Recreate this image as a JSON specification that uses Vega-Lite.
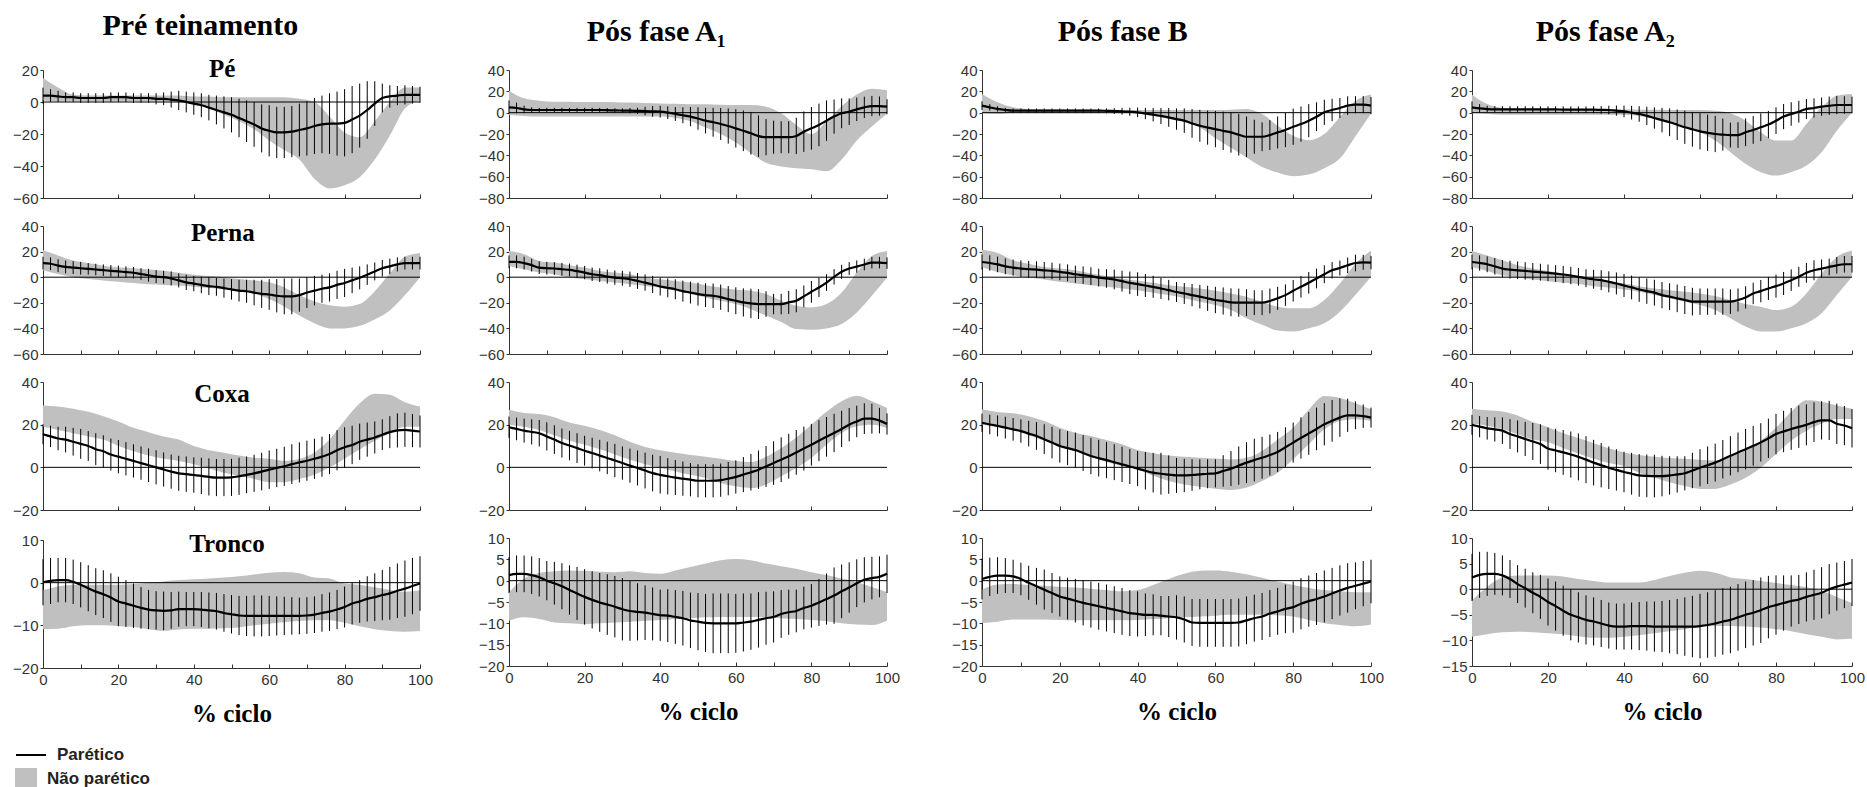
{
"$schema":"https://vega.github.io/schema/vega-lite/v6.json",
"background":"white",
"padding":{"left":0,"top":11,"right":0,"bottom":0},
"config":{
 "view":{"stroke":null},
 "axis":{"grid":false,"domainColor":"#333","tickColor":"#333","labelColor":"#333","labelFont":"Liberation Sans","labelFontSize":15,"domainWidth":1,"tickWidth":1,"labelOverlap":false,"tickCount":50},
 "axisY":{"tickSize":3,"labelPadding":2,"labelOverlap":false},
 "axisX":{"tickSize":-4,"labelPadding":8,"labelFlush":false,"titleFont":"Liberation Serif","titleFontSize":25,"titleFontWeight":"bold","titleColor":"#000","titlePadding":14},
 "title":{"font":"Liberation Serif","fontSize":30,"fontWeight":"bold","color":"#000","anchor":"middle","offset":16}
},
"data":{"values":[
{"k":"1P","x":0,"m":4,"s":5,"lo":1,"hi":15},{"k":"1P","x":2,"m":4,"s":4},{"k":"1P","x":4,"m":3.5,"s":3.5,"lo":0.5,"hi":9},{"k":"1P","x":6,"m":3,"s":3},{"k":"1P","x":8,"m":3,"s":3,"lo":0.5,"hi":4.5},{"k":"1P","x":10,"m":2.5,"s":3},{"k":"1P","x":12,"m":2.5,"s":3,"lo":0.5,"hi":4},{"k":"1P","x":14,"m":2.5,"s":3},{"k":"1P","x":16,"m":2.5,"s":3,"lo":0.5,"hi":4},{"k":"1P","x":18,"m":3,"s":3},{"k":"1P","x":20,"m":3,"s":3,"lo":0.5,"hi":4},{"k":"1P","x":22,"m":3,"s":3},{"k":"1P","x":24,"m":2.5,"s":3,"lo":0.5,"hi":4},{"k":"1P","x":26,"m":2.5,"s":3},{"k":"1P","x":28,"m":2.5,"s":3,"lo":0.5,"hi":4},{"k":"1P","x":30,"m":2,"s":3.5},{"k":"1P","x":32,"m":2,"s":4,"lo":0.5,"hi":4},{"k":"1P","x":34,"m":1.5,"s":5},{"k":"1P","x":36,"m":1,"s":6,"lo":0,"hi":4},{"k":"1P","x":38,"m":0,"s":6.5},{"k":"1P","x":40,"m":-1,"s":7,"lo":-1,"hi":3.5},{"k":"1P","x":42,"m":-2,"s":7.5},{"k":"1P","x":44,"m":-3.5,"s":8,"lo":-4,"hi":3.5},{"k":"1P","x":46,"m":-5,"s":9},{"k":"1P","x":48,"m":-6.5,"s":10,"lo":-8,"hi":3},{"k":"1P","x":50,"m":-8,"s":11},{"k":"1P","x":52,"m":-10,"s":12,"lo":-12,"hi":3},{"k":"1P","x":54,"m":-12,"s":13},{"k":"1P","x":56,"m":-14,"s":14,"lo":-17,"hi":3},{"k":"1P","x":58,"m":-16.5,"s":15},{"k":"1P","x":60,"m":-18,"s":16,"lo":-24,"hi":3},{"k":"1P","x":62,"m":-19,"s":16},{"k":"1P","x":64,"m":-19,"s":16,"lo":-30,"hi":3},{"k":"1P","x":66,"m":-18.5,"s":16},{"k":"1P","x":68,"m":-17.5,"s":16.5,"lo":-36,"hi":2},{"k":"1P","x":70,"m":-16.5,"s":17},{"k":"1P","x":72,"m":-15,"s":17.5,"lo":-48,"hi":0},{"k":"1P","x":74,"m":-14,"s":18},{"k":"1P","x":76,"m":-13.5,"s":19,"lo":-54,"hi":-9},{"k":"1P","x":78,"m":-13.5,"s":20},{"k":"1P","x":80,"m":-13,"s":21,"lo":-52,"hi":-19},{"k":"1P","x":82,"m":-11,"s":21},{"k":"1P","x":84,"m":-8.5,"s":20,"lo":-47,"hi":-22},{"k":"1P","x":86,"m":-5,"s":18},{"k":"1P","x":88,"m":-1,"s":14,"lo":-36,"hi":-12},{"k":"1P","x":90,"m":2.5,"s":9},{"k":"1P","x":92,"m":3.5,"s":7,"lo":-21,"hi":0},{"k":"1P","x":94,"m":4,"s":6},{"k":"1P","x":96,"m":4.5,"s":6,"lo":-4,"hi":9},{"k":"1P","x":98,"m":4.5,"s":5.5},{"k":"1P","x":100,"m":4.5,"s":5,"lo":1,"hi":9},
{"k":"1L","x":0,"m":11,"s":5,"lo":5.5,"hi":21},{"k":"1L","x":2,"m":10.5,"s":5},{"k":"1L","x":4,"m":9,"s":5,"lo":2.5,"hi":17},{"k":"1L","x":6,"m":8,"s":5},{"k":"1L","x":8,"m":7.5,"s":5,"lo":0,"hi":13},{"k":"1L","x":10,"m":7,"s":5},{"k":"1L","x":12,"m":6.5,"s":4.5,"lo":-1.5,"hi":11},{"k":"1L","x":14,"m":6,"s":4.5},{"k":"1L","x":16,"m":5.5,"s":4.5,"lo":-2.5,"hi":9},{"k":"1L","x":18,"m":5,"s":4.5},{"k":"1L","x":20,"m":4.5,"s":4.5,"lo":-3.5,"hi":7.5},{"k":"1L","x":22,"m":4,"s":4.5},{"k":"1L","x":24,"m":3.5,"s":4.5,"lo":-4.5,"hi":7},{"k":"1L","x":26,"m":2.5,"s":4.5},{"k":"1L","x":28,"m":1.5,"s":5,"lo":-5.5,"hi":6},{"k":"1L","x":30,"m":0.5,"s":5},{"k":"1L","x":32,"m":0,"s":5,"lo":-6,"hi":5},{"k":"1L","x":34,"m":-1,"s":5.5},{"k":"1L","x":36,"m":-2.5,"s":5.5,"lo":-6.5,"hi":3.5},{"k":"1L","x":38,"m":-4,"s":6},{"k":"1L","x":40,"m":-5,"s":6,"lo":-7.5,"hi":2},{"k":"1L","x":42,"m":-6,"s":6.5},{"k":"1L","x":44,"m":-7,"s":7,"lo":-8.5,"hi":1},{"k":"1L","x":46,"m":-7.5,"s":7},{"k":"1L","x":48,"m":-8.5,"s":7.5,"lo":-9.5,"hi":0},{"k":"1L","x":50,"m":-9.5,"s":8},{"k":"1L","x":52,"m":-10.5,"s":8.5,"lo":-11,"hi":-1.5},{"k":"1L","x":54,"m":-11,"s":9},{"k":"1L","x":56,"m":-12,"s":10,"lo":-13,"hi":-2.5},{"k":"1L","x":58,"m":-13,"s":11},{"k":"1L","x":60,"m":-13.5,"s":12,"lo":-17,"hi":-4},{"k":"1L","x":62,"m":-14.5,"s":13},{"k":"1L","x":64,"m":-15,"s":14,"lo":-23,"hi":-8},{"k":"1L","x":66,"m":-15,"s":14},{"k":"1L","x":68,"m":-14,"s":13,"lo":-30,"hi":-14},{"k":"1L","x":70,"m":-12,"s":12},{"k":"1L","x":72,"m":-10.5,"s":11.5,"lo":-36,"hi":-19},{"k":"1L","x":74,"m":-9,"s":11},{"k":"1L","x":76,"m":-8,"s":11,"lo":-40,"hi":-22},{"k":"1L","x":78,"m":-6,"s":11},{"k":"1L","x":80,"m":-4.5,"s":11,"lo":-40,"hi":-23},{"k":"1L","x":82,"m":-2.5,"s":10},{"k":"1L","x":84,"m":-0.5,"s":9,"lo":-38,"hi":-21},{"k":"1L","x":86,"m":2,"s":8},{"k":"1L","x":88,"m":4.5,"s":7,"lo":-33,"hi":-11},{"k":"1L","x":90,"m":7,"s":6.5},{"k":"1L","x":92,"m":8.5,"s":6,"lo":-26,"hi":3},{"k":"1L","x":94,"m":10,"s":5.5},{"k":"1L","x":96,"m":11,"s":5,"lo":-14,"hi":16},{"k":"1L","x":98,"m":11,"s":5},{"k":"1L","x":100,"m":11,"s":5,"lo":0,"hi":19},
{"k":"1C","x":0,"m":15.5,"s":4.7,"lo":19,"hi":29},{"k":"1C","x":2,"m":14.5,"s":5},{"k":"1C","x":4,"m":13.5,"s":5.5,"lo":17.5,"hi":28.5},{"k":"1C","x":6,"m":13,"s":6},{"k":"1C","x":8,"m":12,"s":6.5,"lo":16,"hi":27.5},{"k":"1C","x":10,"m":11,"s":7},{"k":"1C","x":12,"m":10,"s":7,"lo":14.5,"hi":26},{"k":"1C","x":14,"m":8.5,"s":7.5},{"k":"1C","x":16,"m":7.5,"s":7.5,"lo":13,"hi":24},{"k":"1C","x":18,"m":6,"s":7.5},{"k":"1C","x":20,"m":5,"s":7.8,"lo":10,"hi":21.5},{"k":"1C","x":22,"m":4,"s":7.8},{"k":"1C","x":24,"m":3,"s":7.8,"lo":7.5,"hi":18.5},{"k":"1C","x":26,"m":2,"s":7.8},{"k":"1C","x":28,"m":1,"s":7.9,"lo":5.5,"hi":16.5},{"k":"1C","x":30,"m":0,"s":8},{"k":"1C","x":32,"m":-1,"s":8,"lo":4,"hi":14.5},{"k":"1C","x":34,"m":-2,"s":8},{"k":"1C","x":36,"m":-2.8,"s":8.2,"lo":3,"hi":13},{"k":"1C","x":38,"m":-3.2,"s":8.3},{"k":"1C","x":40,"m":-3.6,"s":8.3,"lo":1.5,"hi":10},{"k":"1C","x":42,"m":-4,"s":8.5},{"k":"1C","x":44,"m":-4.5,"s":8.7,"lo":-0.5,"hi":8},{"k":"1C","x":46,"m":-4.8,"s":8.7},{"k":"1C","x":48,"m":-4.8,"s":8.7,"lo":-2.5,"hi":6.8},{"k":"1C","x":50,"m":-4.7,"s":8.7},{"k":"1C","x":52,"m":-4.2,"s":8.7,"lo":-4,"hi":5.5},{"k":"1C","x":54,"m":-3.5,"s":8.6},{"k":"1C","x":56,"m":-2.8,"s":8.7,"lo":-5.5,"hi":4.5},{"k":"1C","x":58,"m":-2,"s":8.8},{"k":"1C","x":60,"m":-1.1,"s":9,"lo":-7,"hi":4},{"k":"1C","x":62,"m":-0.3,"s":9},{"k":"1C","x":64,"m":0.5,"s":9.2,"lo":-7,"hi":3},{"k":"1C","x":66,"m":1.5,"s":9.3},{"k":"1C","x":68,"m":2.3,"s":9.4,"lo":-5.5,"hi":4},{"k":"1C","x":70,"m":3.1,"s":9.4},{"k":"1C","x":72,"m":4,"s":9.4,"lo":-3.5,"hi":7},{"k":"1C","x":74,"m":5,"s":9.4},{"k":"1C","x":76,"m":6.2,"s":9.4,"lo":0,"hi":13},{"k":"1C","x":78,"m":8,"s":9.4},{"k":"1C","x":80,"m":9.4,"s":9.4,"lo":4,"hi":22},{"k":"1C","x":82,"m":10.5,"s":9},{"k":"1C","x":84,"m":12,"s":8.5,"lo":8.5,"hi":30},{"k":"1C","x":86,"m":13,"s":8},{"k":"1C","x":88,"m":14,"s":7.5,"lo":12.5,"hi":34.5},{"k":"1C","x":90,"m":15.3,"s":7.2},{"k":"1C","x":92,"m":16.5,"s":7.5,"lo":16,"hi":34},{"k":"1C","x":94,"m":17.3,"s":8},{"k":"1C","x":96,"m":17.6,"s":8,"lo":19,"hi":30.5},{"k":"1C","x":98,"m":17.2,"s":7.8},{"k":"1C","x":100,"m":16.8,"s":7.5,"lo":19,"hi":28.5},
{"k":"1T","x":0,"m":0.1,"s":5.4,"lo":-10.9,"hi":-1.8},{"k":"1T","x":2,"m":0.4,"s":5.4},{"k":"1T","x":4,"m":0.6,"s":5.2,"lo":-10.8,"hi":-0.9},{"k":"1T","x":6,"m":0.6,"s":5.2},{"k":"1T","x":8,"m":0.2,"s":5.2,"lo":-10.2,"hi":-0.5},{"k":"1T","x":10,"m":-0.5,"s":5.3},{"k":"1T","x":12,"m":-1.3,"s":5.4,"lo":-10,"hi":-0.5},{"k":"1T","x":14,"m":-2.1,"s":5.5},{"k":"1T","x":16,"m":-2.7,"s":5.6,"lo":-10,"hi":-0.5},{"k":"1T","x":18,"m":-3.5,"s":5.7},{"k":"1T","x":20,"m":-4.4,"s":5.8,"lo":-10.2,"hi":-0.5},{"k":"1T","x":22,"m":-4.9,"s":5.5},{"k":"1T","x":24,"m":-5.4,"s":5.2,"lo":-10.4,"hi":-0.3},{"k":"1T","x":26,"m":-5.9,"s":4.9},{"k":"1T","x":28,"m":-6.3,"s":4.6,"lo":-10.9,"hi":0},{"k":"1T","x":30,"m":-6.5,"s":4.5},{"k":"1T","x":32,"m":-6.6,"s":4.5,"lo":-11.3,"hi":0.3},{"k":"1T","x":34,"m":-6.5,"s":4.3},{"k":"1T","x":36,"m":-6.2,"s":4.1,"lo":-11,"hi":0.6},{"k":"1T","x":38,"m":-6.2,"s":4},{"k":"1T","x":40,"m":-6.2,"s":4,"lo":-10.8,"hi":0.8},{"k":"1T","x":42,"m":-6.3,"s":4.1},{"k":"1T","x":44,"m":-6.5,"s":4.2,"lo":-10.8,"hi":1},{"k":"1T","x":46,"m":-6.7,"s":4.3},{"k":"1T","x":48,"m":-7.1,"s":4.4,"lo":-10.7,"hi":1.2},{"k":"1T","x":50,"m":-7.4,"s":4.5},{"k":"1T","x":52,"m":-7.7,"s":4.6,"lo":-10.5,"hi":1.5},{"k":"1T","x":54,"m":-7.8,"s":4.7},{"k":"1T","x":56,"m":-7.8,"s":4.8,"lo":-10,"hi":1.9},{"k":"1T","x":58,"m":-7.8,"s":4.8},{"k":"1T","x":60,"m":-7.8,"s":4.7,"lo":-9.6,"hi":2.3},{"k":"1T","x":62,"m":-7.8,"s":4.6},{"k":"1T","x":64,"m":-7.8,"s":4.5,"lo":-9.3,"hi":2.5},{"k":"1T","x":66,"m":-7.8,"s":4.4},{"k":"1T","x":68,"m":-7.8,"s":4.3,"lo":-9,"hi":2.2},{"k":"1T","x":70,"m":-7.7,"s":4.3},{"k":"1T","x":72,"m":-7.5,"s":4.3,"lo":-8.8,"hi":1.2},{"k":"1T","x":74,"m":-7.1,"s":4.4},{"k":"1T","x":76,"m":-6.8,"s":4.5,"lo":-8.8,"hi":1},{"k":"1T","x":78,"m":-6.3,"s":4.6},{"k":"1T","x":80,"m":-5.7,"s":4.8,"lo":-9.4,"hi":-0.2},{"k":"1T","x":82,"m":-4.9,"s":4.9},{"k":"1T","x":84,"m":-4.4,"s":5,"lo":-10.2,"hi":-0.5},{"k":"1T","x":86,"m":-3.8,"s":5.3},{"k":"1T","x":88,"m":-3.4,"s":5.6,"lo":-10.9,"hi":-1.1},{"k":"1T","x":90,"m":-2.9,"s":5.9},{"k":"1T","x":92,"m":-2.5,"s":6.2,"lo":-11.3,"hi":-1.7},{"k":"1T","x":94,"m":-1.9,"s":6.4},{"k":"1T","x":96,"m":-1.4,"s":6.6,"lo":-11.5,"hi":-2.1},{"k":"1T","x":98,"m":-0.8,"s":6.6},{"k":"1T","x":100,"m":-0.2,"s":6.4,"lo":-11.3,"hi":-1.8},
{"k":"2P","x":0,"m":5,"s":6.5,"lo":-2.2,"hi":20.6},{"k":"2P","x":2,"m":4.4,"s":5},{"k":"2P","x":4,"m":3.1,"s":3.5,"lo":-3.1,"hi":13.4},{"k":"2P","x":6,"m":2.5,"s":2.5},{"k":"2P","x":8,"m":2.5,"s":2,"lo":-3.7,"hi":11.2},{"k":"2P","x":10,"m":2.5,"s":2},{"k":"2P","x":12,"m":2.5,"s":2,"lo":-3.7,"hi":10.3},{"k":"2P","x":14,"m":2.5,"s":2},{"k":"2P","x":16,"m":2.5,"s":2,"lo":-3.7,"hi":10.3},{"k":"2P","x":18,"m":2.5,"s":2},{"k":"2P","x":20,"m":2.5,"s":2,"lo":-3.7,"hi":10},{"k":"2P","x":22,"m":2.5,"s":2},{"k":"2P","x":24,"m":2.5,"s":2,"lo":-3.7,"hi":10},{"k":"2P","x":26,"m":2.3,"s":2},{"k":"2P","x":28,"m":2.1,"s":2,"lo":-3.7,"hi":9.8},{"k":"2P","x":30,"m":2,"s":2},{"k":"2P","x":32,"m":1.9,"s":2.5,"lo":-3.7,"hi":9.5},{"k":"2P","x":34,"m":1.7,"s":3},{"k":"2P","x":36,"m":1.5,"s":4,"lo":-3.7,"hi":9},{"k":"2P","x":38,"m":1.2,"s":5},{"k":"2P","x":40,"m":0.9,"s":5.5,"lo":-3.7,"hi":8.7},{"k":"2P","x":42,"m":0,"s":6},{"k":"2P","x":44,"m":-1.2,"s":6.5,"lo":-5,"hi":8.4},{"k":"2P","x":46,"m":-2.4,"s":7.5},{"k":"2P","x":48,"m":-3.7,"s":9,"lo":-8,"hi":8},{"k":"2P","x":50,"m":-5.5,"s":10.5},{"k":"2P","x":52,"m":-7.5,"s":12,"lo":-14,"hi":7.8},{"k":"2P","x":54,"m":-9,"s":13.5},{"k":"2P","x":56,"m":-10.6,"s":15,"lo":-20,"hi":7.5},{"k":"2P","x":58,"m":-12.5,"s":16.5},{"k":"2P","x":60,"m":-14.7,"s":18,"lo":-28,"hi":7.2},{"k":"2P","x":62,"m":-17,"s":19},{"k":"2P","x":64,"m":-19.3,"s":20,"lo":-38,"hi":7.2},{"k":"2P","x":66,"m":-22,"s":19.5},{"k":"2P","x":68,"m":-23,"s":17,"lo":-47,"hi":5.6},{"k":"2P","x":70,"m":-23,"s":15.5},{"k":"2P","x":72,"m":-23,"s":15,"lo":-50.5,"hi":-0.6},{"k":"2P","x":74,"m":-23,"s":15},{"k":"2P","x":76,"m":-21.8,"s":17,"lo":-52,"hi":-11.5},{"k":"2P","x":78,"m":-17.8,"s":19},{"k":"2P","x":80,"m":-14.7,"s":20,"lo":-53,"hi":-20},{"k":"2P","x":82,"m":-11.5,"s":20},{"k":"2P","x":84,"m":-7.5,"s":19,"lo":-55,"hi":-8},{"k":"2P","x":86,"m":-3.7,"s":16},{"k":"2P","x":88,"m":-0.6,"s":14,"lo":-44,"hi":6},{"k":"2P","x":90,"m":0.9,"s":12.5},{"k":"2P","x":92,"m":3.1,"s":11,"lo":-26,"hi":17},{"k":"2P","x":94,"m":5,"s":10},{"k":"2P","x":96,"m":6.2,"s":9.5,"lo":-13,"hi":22.5},{"k":"2P","x":98,"m":6.2,"s":9},{"k":"2P","x":100,"m":5.6,"s":7,"lo":-1,"hi":21},
{"k":"2L","x":0,"m":12,"s":5,"lo":8.8,"hi":20.5},{"k":"2L","x":2,"m":12,"s":5},{"k":"2L","x":4,"m":11,"s":5,"lo":6.2,"hi":18},{"k":"2L","x":6,"m":9.4,"s":5},{"k":"2L","x":8,"m":7.5,"s":5,"lo":3.6,"hi":12.7},{"k":"2L","x":10,"m":7,"s":5},{"k":"2L","x":12,"m":6.8,"s":5,"lo":2.3,"hi":11.4},{"k":"2L","x":14,"m":6.2,"s":5},{"k":"2L","x":16,"m":5.7,"s":5,"lo":-0.3,"hi":9.4},{"k":"2L","x":18,"m":4.7,"s":5.1},{"k":"2L","x":20,"m":3.6,"s":5.2,"lo":-1.6,"hi":7.5},{"k":"2L","x":22,"m":2.3,"s":5.3},{"k":"2L","x":24,"m":1.6,"s":5.4,"lo":-2.9,"hi":4.9},{"k":"2L","x":26,"m":0.5,"s":5.5},{"k":"2L","x":28,"m":-0.3,"s":5.6,"lo":-4.2,"hi":3.6},{"k":"2L","x":30,"m":-0.8,"s":5.8},{"k":"2L","x":32,"m":-1.6,"s":6,"lo":-5.5,"hi":2.3},{"k":"2L","x":34,"m":-2.9,"s":6.2},{"k":"2L","x":36,"m":-4.2,"s":6.4,"lo":-6.8,"hi":-0.3},{"k":"2L","x":38,"m":-5.7,"s":6.7},{"k":"2L","x":40,"m":-7.3,"s":7,"lo":-8,"hi":-1.6},{"k":"2L","x":42,"m":-8.3,"s":7.4},{"k":"2L","x":44,"m":-9.4,"s":7.8,"lo":-10.6,"hi":-2.9},{"k":"2L","x":46,"m":-10.9,"s":8.2},{"k":"2L","x":48,"m":-12,"s":8.6,"lo":-13.2,"hi":-4.2},{"k":"2L","x":50,"m":-13.2,"s":9},{"k":"2L","x":52,"m":-14,"s":9.3,"lo":-15.8,"hi":-6.2},{"k":"2L","x":54,"m":-14.5,"s":9.6},{"k":"2L","x":56,"m":-15.6,"s":9.9,"lo":-18.4,"hi":-8},{"k":"2L","x":58,"m":-17.1,"s":10.2},{"k":"2L","x":60,"m":-18.4,"s":10.5,"lo":-21,"hi":-9.9},{"k":"2L","x":62,"m":-19.7,"s":11},{"k":"2L","x":64,"m":-20.5,"s":11.5,"lo":-25,"hi":-10.6},{"k":"2L","x":66,"m":-21,"s":11.7},{"k":"2L","x":68,"m":-21,"s":10,"lo":-30,"hi":-13.2},{"k":"2L","x":70,"m":-21,"s":8},{"k":"2L","x":72,"m":-21,"s":8,"lo":-35,"hi":-18.4},{"k":"2L","x":74,"m":-19.7,"s":9},{"k":"2L","x":76,"m":-18.4,"s":9,"lo":-40.5,"hi":-22.3},{"k":"2L","x":78,"m":-15,"s":8.5},{"k":"2L","x":80,"m":-11.4,"s":8.5,"lo":-41,"hi":-23.6},{"k":"2L","x":82,"m":-8,"s":7.5},{"k":"2L","x":84,"m":-4.2,"s":6.5,"lo":-40,"hi":-21},{"k":"2L","x":86,"m":0.3,"s":6},{"k":"2L","x":88,"m":4.2,"s":5.5,"lo":-36.6,"hi":-12},{"k":"2L","x":90,"m":6.8,"s":5},{"k":"2L","x":92,"m":8.3,"s":4.8,"lo":-27.5,"hi":3.6},{"k":"2L","x":94,"m":9.9,"s":4.6},{"k":"2L","x":96,"m":11.4,"s":4.5,"lo":-14.5,"hi":16.6},{"k":"2L","x":98,"m":11.4,"s":4.5},{"k":"2L","x":100,"m":11,"s":4.5,"lo":-0.3,"hi":20.5},
{"k":"2C","x":0,"m":18.8,"s":5,"lo":20,"hi":27},{"k":"2C","x":2,"m":18,"s":5.3},{"k":"2C","x":4,"m":17.2,"s":5.6,"lo":19,"hi":25.5},{"k":"2C","x":6,"m":16.6,"s":5.9},{"k":"2C","x":8,"m":16,"s":6.2,"lo":17.5,"hi":25},{"k":"2C","x":10,"m":14.5,"s":6.6},{"k":"2C","x":12,"m":13,"s":6.7,"lo":15,"hi":23.5},{"k":"2C","x":14,"m":11.4,"s":6.8},{"k":"2C","x":16,"m":10.2,"s":6.9,"lo":12.5,"hi":21},{"k":"2C","x":18,"m":9,"s":7},{"k":"2C","x":20,"m":7.8,"s":7,"lo":10.6,"hi":19.5},{"k":"2C","x":22,"m":6.7,"s":7.2},{"k":"2C","x":24,"m":5.5,"s":7.4,"lo":8.5,"hi":17.5},{"k":"2C","x":26,"m":4.4,"s":7.6},{"k":"2C","x":28,"m":3.2,"s":7.8,"lo":6,"hi":15},{"k":"2C","x":30,"m":2,"s":7.8},{"k":"2C","x":32,"m":0.8,"s":8,"lo":3.5,"hi":12},{"k":"2C","x":34,"m":-0.3,"s":8.2},{"k":"2C","x":36,"m":-1.5,"s":8.4,"lo":1.5,"hi":9.5},{"k":"2C","x":38,"m":-2.7,"s":8.6},{"k":"2C","x":40,"m":-3.5,"s":8.8,"lo":-0.3,"hi":8},{"k":"2C","x":42,"m":-4.2,"s":8.5},{"k":"2C","x":44,"m":-4.8,"s":8.2,"lo":-2,"hi":6.8},{"k":"2C","x":46,"m":-5.3,"s":8},{"k":"2C","x":48,"m":-5.8,"s":7.8,"lo":-3.5,"hi":5.8},{"k":"2C","x":50,"m":-6.3,"s":7.8},{"k":"2C","x":52,"m":-6.3,"s":7.8,"lo":-5,"hi":5},{"k":"2C","x":54,"m":-6.3,"s":7.8},{"k":"2C","x":56,"m":-6,"s":7.8,"lo":-7.3,"hi":4},{"k":"2C","x":58,"m":-5.3,"s":7.8},{"k":"2C","x":60,"m":-4.5,"s":7.8,"lo":-8.9,"hi":3},{"k":"2C","x":62,"m":-3.4,"s":8.2},{"k":"2C","x":64,"m":-2.3,"s":8.6,"lo":-9.7,"hi":2.5},{"k":"2C","x":66,"m":-1.1,"s":9},{"k":"2C","x":68,"m":0.4,"s":9.6,"lo":-8.1,"hi":5},{"k":"2C","x":70,"m":2,"s":10.2},{"k":"2C","x":72,"m":3.6,"s":10.5,"lo":-4.2,"hi":9},{"k":"2C","x":74,"m":5.2,"s":10.5},{"k":"2C","x":76,"m":7,"s":10.5,"lo":-0.3,"hi":14},{"k":"2C","x":78,"m":8.8,"s":10.3},{"k":"2C","x":80,"m":10.6,"s":9.8,"lo":4.4,"hi":20},{"k":"2C","x":82,"m":12.5,"s":9.6},{"k":"2C","x":84,"m":14.3,"s":9.3,"lo":10.6,"hi":26},{"k":"2C","x":86,"m":16.1,"s":9},{"k":"2C","x":88,"m":18,"s":8.5,"lo":16.1,"hi":31},{"k":"2C","x":90,"m":20,"s":7.8},{"k":"2C","x":92,"m":21.5,"s":7.4,"lo":19.2,"hi":33.5},{"k":"2C","x":94,"m":22.8,"s":7.2},{"k":"2C","x":96,"m":22.8,"s":7,"lo":20,"hi":31},{"k":"2C","x":98,"m":21.9,"s":6},{"k":"2C","x":100,"m":20.3,"s":5,"lo":18.4,"hi":27.8},
{"k":"2T","x":0,"m":1.3,"s":4.2,"lo":-9.4,"hi":-2.7},{"k":"2T","x":2,"m":1.6,"s":4.3},{"k":"2T","x":4,"m":1.6,"s":4.3,"lo":-8.6,"hi":0.5},{"k":"2T","x":6,"m":1.3,"s":4.4},{"k":"2T","x":8,"m":0.8,"s":4.5,"lo":-9,"hi":1.8},{"k":"2T","x":10,"m":0,"s":4.6},{"k":"2T","x":12,"m":-0.6,"s":5,"lo":-9.8,"hi":2.2},{"k":"2T","x":14,"m":-1.3,"s":5.4},{"k":"2T","x":16,"m":-2.2,"s":5.8,"lo":-10,"hi":2.4},{"k":"2T","x":18,"m":-3,"s":6.2},{"k":"2T","x":20,"m":-3.8,"s":6.5,"lo":-10.2,"hi":2.3},{"k":"2T","x":22,"m":-4.5,"s":6.7},{"k":"2T","x":24,"m":-5.1,"s":6.9,"lo":-10,"hi":2.1},{"k":"2T","x":26,"m":-5.6,"s":7.1},{"k":"2T","x":28,"m":-6.1,"s":7.2,"lo":-9.8,"hi":2},{"k":"2T","x":30,"m":-6.7,"s":7.3},{"k":"2T","x":32,"m":-7.1,"s":7,"lo":-9.6,"hi":2.2},{"k":"2T","x":34,"m":-7.3,"s":6.7},{"k":"2T","x":36,"m":-7.5,"s":6.4,"lo":-9.4,"hi":1.8},{"k":"2T","x":38,"m":-7.8,"s":6.2},{"k":"2T","x":40,"m":-8.1,"s":6,"lo":-9.2,"hi":1.6},{"k":"2T","x":42,"m":-8.2,"s":6.2},{"k":"2T","x":44,"m":-8.5,"s":6.3,"lo":-9,"hi":2.4},{"k":"2T","x":46,"m":-8.8,"s":6.4},{"k":"2T","x":48,"m":-9.3,"s":6.5,"lo":-8.8,"hi":3.2},{"k":"2T","x":50,"m":-9.6,"s":6.7},{"k":"2T","x":52,"m":-9.9,"s":6.8,"lo":-8.6,"hi":4},{"k":"2T","x":54,"m":-10,"s":7},{"k":"2T","x":56,"m":-10,"s":7,"lo":-8.5,"hi":4.8},{"k":"2T","x":58,"m":-10,"s":7},{"k":"2T","x":60,"m":-10,"s":6.9,"lo":-8.5,"hi":5.1},{"k":"2T","x":62,"m":-9.8,"s":6.8},{"k":"2T","x":64,"m":-9.6,"s":6.6,"lo":-8.5,"hi":4.8},{"k":"2T","x":66,"m":-9.2,"s":6.5},{"k":"2T","x":68,"m":-8.8,"s":6.2,"lo":-8.6,"hi":4},{"k":"2T","x":70,"m":-8.5,"s":6},{"k":"2T","x":72,"m":-7.8,"s":5.6,"lo":-8.8,"hi":3.4},{"k":"2T","x":74,"m":-7.4,"s":5.3},{"k":"2T","x":76,"m":-7.1,"s":5,"lo":-9,"hi":2.8},{"k":"2T","x":78,"m":-6.4,"s":5},{"k":"2T","x":80,"m":-5.9,"s":5.1,"lo":-9.2,"hi":2},{"k":"2T","x":82,"m":-5.1,"s":5.5},{"k":"2T","x":84,"m":-4.3,"s":6,"lo":-9.5,"hi":1.3},{"k":"2T","x":86,"m":-3.5,"s":6.6},{"k":"2T","x":88,"m":-2.5,"s":6.3,"lo":-10,"hi":0.5},{"k":"2T","x":90,"m":-1.6,"s":5.9},{"k":"2T","x":92,"m":-0.6,"s":5.6,"lo":-10.3,"hi":-0.3},{"k":"2T","x":94,"m":0.2,"s":5.3},{"k":"2T","x":96,"m":0.6,"s":5,"lo":-10.4,"hi":-1.5},{"k":"2T","x":98,"m":0.9,"s":4.8},{"k":"2T","x":100,"m":1.6,"s":4.5,"lo":-9.4,"hi":-2.7},
{"k":"3P","x":0,"m":6.6,"s":4,"lo":-0.6,"hi":17.6},{"k":"3P","x":2,"m":5,"s":3},{"k":"3P","x":4,"m":3.5,"s":2.5,"lo":-1.3,"hi":9.7},{"k":"3P","x":6,"m":2.5,"s":2},{"k":"3P","x":8,"m":1.9,"s":2,"lo":-0.6,"hi":5},{"k":"3P","x":10,"m":1.9,"s":2},{"k":"3P","x":12,"m":1.9,"s":2,"lo":-0.6,"hi":3.5},{"k":"3P","x":14,"m":1.9,"s":2},{"k":"3P","x":16,"m":1.9,"s":2,"lo":-0.6,"hi":3.3},{"k":"3P","x":18,"m":1.9,"s":2},{"k":"3P","x":20,"m":1.9,"s":2,"lo":-0.6,"hi":3.1},{"k":"3P","x":22,"m":1.9,"s":2},{"k":"3P","x":24,"m":1.9,"s":2,"lo":-0.6,"hi":3},{"k":"3P","x":26,"m":1.9,"s":2},{"k":"3P","x":28,"m":1.9,"s":2,"lo":-0.6,"hi":2.8},{"k":"3P","x":30,"m":1.9,"s":2},{"k":"3P","x":32,"m":1.7,"s":2.3,"lo":-0.6,"hi":2.7},{"k":"3P","x":34,"m":1.5,"s":2.7},{"k":"3P","x":36,"m":1.3,"s":3.2,"lo":-0.6,"hi":2.6},{"k":"3P","x":38,"m":0.8,"s":3.8},{"k":"3P","x":40,"m":0.3,"s":4.5,"lo":-1,"hi":2.5},{"k":"3P","x":42,"m":-0.8,"s":5.3},{"k":"3P","x":44,"m":-1.9,"s":6.3,"lo":-3,"hi":2.5},{"k":"3P","x":46,"m":-3.1,"s":7.5},{"k":"3P","x":48,"m":-4.4,"s":8.8,"lo":-6,"hi":2.5},{"k":"3P","x":50,"m":-6,"s":10},{"k":"3P","x":52,"m":-7.5,"s":11.5,"lo":-9,"hi":2.5},{"k":"3P","x":54,"m":-10,"s":13.5},{"k":"3P","x":56,"m":-12.3,"s":15,"lo":-14,"hi":2.5},{"k":"3P","x":58,"m":-14,"s":16},{"k":"3P","x":60,"m":-15.4,"s":17,"lo":-24,"hi":2.5},{"k":"3P","x":62,"m":-17,"s":18},{"k":"3P","x":64,"m":-18.5,"s":19,"lo":-33,"hi":2.8},{"k":"3P","x":66,"m":-20.7,"s":19.5},{"k":"3P","x":68,"m":-22.6,"s":19,"lo":-42,"hi":3.5},{"k":"3P","x":70,"m":-22.6,"s":16},{"k":"3P","x":72,"m":-22.6,"s":13.5,"lo":-51,"hi":-1.3},{"k":"3P","x":74,"m":-21,"s":14},{"k":"3P","x":76,"m":-18.5,"s":15,"lo":-56,"hi":-12.3},{"k":"3P","x":78,"m":-16.3,"s":16},{"k":"3P","x":80,"m":-13.2,"s":17,"lo":-59.5,"hi":-21.7},{"k":"3P","x":82,"m":-10.7,"s":16.5},{"k":"3P","x":84,"m":-7.5,"s":15.5,"lo":-58,"hi":-25.8},{"k":"3P","x":86,"m":-3.8,"s":13.5},{"k":"3P","x":88,"m":0.3,"s":11.8,"lo":-52,"hi":-20},{"k":"3P","x":90,"m":2.5,"s":10.5},{"k":"3P","x":92,"m":4.4,"s":9.4,"lo":-43,"hi":-4},{"k":"3P","x":94,"m":6.6,"s":8.7},{"k":"3P","x":96,"m":7.5,"s":8,"lo":-22,"hi":11},{"k":"3P","x":98,"m":7.5,"s":8},{"k":"3P","x":100,"m":6.6,"s":8,"lo":-1,"hi":17},
{"k":"3L","x":0,"m":11.9,"s":6,"lo":8,"hi":21.4},{"k":"3L","x":2,"m":11.1,"s":6},{"k":"3L","x":4,"m":10,"s":6.1,"lo":4.1,"hi":18.9},{"k":"3L","x":6,"m":8.5,"s":6.2},{"k":"3L","x":8,"m":7.5,"s":6.3,"lo":1.6,"hi":13.2},{"k":"3L","x":10,"m":6.7,"s":6.5},{"k":"3L","x":12,"m":6.2,"s":6.5,"lo":-0.3,"hi":10.6},{"k":"3L","x":14,"m":5.9,"s":6.5},{"k":"3L","x":16,"m":5.4,"s":6.5,"lo":-1.8,"hi":8},{"k":"3L","x":18,"m":4.9,"s":6.5},{"k":"3L","x":20,"m":4.1,"s":6.5,"lo":-3.6,"hi":6.7},{"k":"3L","x":22,"m":3.4,"s":6.6},{"k":"3L","x":24,"m":2.3,"s":6.7,"lo":-4.9,"hi":5.4},{"k":"3L","x":26,"m":1.6,"s":6.8},{"k":"3L","x":28,"m":0.8,"s":6.9,"lo":-6.2,"hi":2.8},{"k":"3L","x":30,"m":-0.3,"s":7},{"k":"3L","x":32,"m":-1,"s":7.3,"lo":-7.5,"hi":0.8},{"k":"3L","x":34,"m":-1.8,"s":7.7},{"k":"3L","x":36,"m":-3.1,"s":8.2,"lo":-8.8,"hi":-1},{"k":"3L","x":38,"m":-4.4,"s":8.8},{"k":"3L","x":40,"m":-5.4,"s":9.2,"lo":-10.1,"hi":-2.8},{"k":"3L","x":42,"m":-6.5,"s":9},{"k":"3L","x":44,"m":-7.5,"s":8.6,"lo":-12.1,"hi":-4.4},{"k":"3L","x":46,"m":-8.8,"s":8.2},{"k":"3L","x":48,"m":-10.1,"s":8,"lo":-14,"hi":-6.2},{"k":"3L","x":50,"m":-11.6,"s":7.8},{"k":"3L","x":52,"m":-12.7,"s":8.2,"lo":-16.5,"hi":-7.5},{"k":"3L","x":54,"m":-14,"s":8.7},{"k":"3L","x":56,"m":-15.2,"s":9.2,"lo":-19.1,"hi":-8.8},{"k":"3L","x":58,"m":-16.5,"s":9.8},{"k":"3L","x":60,"m":-17.8,"s":10.3,"lo":-21.7,"hi":-10.6},{"k":"3L","x":62,"m":-18.6,"s":10.6},{"k":"3L","x":64,"m":-19.6,"s":10.9,"lo":-25.6,"hi":-12.7},{"k":"3L","x":66,"m":-19.9,"s":11},{"k":"3L","x":68,"m":-19.9,"s":10.5,"lo":-32,"hi":-15.2},{"k":"3L","x":70,"m":-19.9,"s":9.7},{"k":"3L","x":72,"m":-19.9,"s":9.7,"lo":-37.2,"hi":-19.1},{"k":"3L","x":74,"m":-18.6,"s":9.7},{"k":"3L","x":76,"m":-16.5,"s":9,"lo":-41.6,"hi":-23},{"k":"3L","x":78,"m":-14,"s":8.4},{"k":"3L","x":80,"m":-10.6,"s":8.4,"lo":-42.4,"hi":-24.3},{"k":"3L","x":82,"m":-7.5,"s":8.4},{"k":"3L","x":84,"m":-4.4,"s":8.4,"lo":-39.8,"hi":-24.3},{"k":"3L","x":86,"m":-1,"s":7.7},{"k":"3L","x":88,"m":2.3,"s":7,"lo":-35.9,"hi":-17.8},{"k":"3L","x":90,"m":5.4,"s":6.4},{"k":"3L","x":92,"m":7.2,"s":5.8,"lo":-26.9,"hi":-4.9},{"k":"3L","x":94,"m":9.3,"s":6.1},{"k":"3L","x":96,"m":11.1,"s":6.5,"lo":-14,"hi":10.6},{"k":"3L","x":98,"m":11.6,"s":5.8},{"k":"3L","x":100,"m":11.4,"s":5.2,"lo":0.3,"hi":20.9},
{"k":"3C","x":0,"m":20.9,"s":4.3,"lo":20,"hi":27.2},{"k":"3C","x":2,"m":20.1,"s":4.6},{"k":"3C","x":4,"m":19.4,"s":4.9,"lo":19,"hi":25.9},{"k":"3C","x":6,"m":18.6,"s":5.1},{"k":"3C","x":8,"m":17.8,"s":5.3,"lo":17.5,"hi":25.3},{"k":"3C","x":10,"m":17,"s":5.5},{"k":"3C","x":12,"m":15.8,"s":6,"lo":15,"hi":24},{"k":"3C","x":14,"m":14.7,"s":6.5},{"k":"3C","x":16,"m":13.2,"s":7,"lo":12.5,"hi":21.7},{"k":"3C","x":18,"m":11.6,"s":7.4},{"k":"3C","x":20,"m":10,"s":7.8,"lo":10,"hi":18.6},{"k":"3C","x":22,"m":9,"s":8},{"k":"3C","x":24,"m":8.1,"s":8.2,"lo":7.5,"hi":16.2},{"k":"3C","x":26,"m":6.7,"s":8.4},{"k":"3C","x":28,"m":5.3,"s":8.5,"lo":5,"hi":14.7},{"k":"3C","x":30,"m":4.3,"s":8.6},{"k":"3C","x":32,"m":3.4,"s":8.5,"lo":2.5,"hi":12.8},{"k":"3C","x":34,"m":2.4,"s":8.4},{"k":"3C","x":36,"m":1.4,"s":8.3,"lo":0.5,"hi":10.8},{"k":"3C","x":38,"m":0.4,"s":8.2},{"k":"3C","x":40,"m":-0.6,"s":8.2,"lo":-0.9,"hi":8.1},{"k":"3C","x":42,"m":-1.6,"s":8.8},{"k":"3C","x":44,"m":-2.5,"s":9.3,"lo":-4,"hi":6.6},{"k":"3C","x":46,"m":-3,"s":9.8},{"k":"3C","x":48,"m":-3.4,"s":9,"lo":-6.4,"hi":5.6},{"k":"3C","x":50,"m":-3.8,"s":8.2},{"k":"3C","x":52,"m":-3.8,"s":7.8,"lo":-8,"hi":5},{"k":"3C","x":54,"m":-3.6,"s":7.4},{"k":"3C","x":56,"m":-3.3,"s":7,"lo":-9.1,"hi":4.5},{"k":"3C","x":58,"m":-3,"s":6.8},{"k":"3C","x":60,"m":-2.8,"s":6.6,"lo":-10,"hi":4.1},{"k":"3C","x":62,"m":-1.7,"s":7.4},{"k":"3C","x":64,"m":-0.6,"s":8.2,"lo":-10.6,"hi":3.7},{"k":"3C","x":66,"m":0.8,"s":9},{"k":"3C","x":68,"m":2.2,"s":9.6,"lo":-9.5,"hi":4.5},{"k":"3C","x":70,"m":3.4,"s":10},{"k":"3C","x":72,"m":4.5,"s":9.8,"lo":-6.4,"hi":7.7},{"k":"3C","x":74,"m":5.8,"s":9.6},{"k":"3C","x":76,"m":7.2,"s":9.4,"lo":-2.5,"hi":13.1},{"k":"3C","x":78,"m":9.4,"s":9.4},{"k":"3C","x":80,"m":11.6,"s":9.4,"lo":3.75,"hi":18.6},{"k":"3C","x":82,"m":13.8,"s":9.7},{"k":"3C","x":84,"m":15.9,"s":10,"lo":10.8,"hi":27},{"k":"3C","x":86,"m":18,"s":10},{"k":"3C","x":88,"m":20.2,"s":9.9,"lo":17.8,"hi":33.4},{"k":"3C","x":90,"m":21.8,"s":9.8},{"k":"3C","x":92,"m":23.3,"s":9,"lo":21.7,"hi":32.5},{"k":"3C","x":94,"m":24.4,"s":7.8},{"k":"3C","x":96,"m":24.4,"s":6.5,"lo":22.5,"hi":30},{"k":"3C","x":98,"m":24,"s":5.5},{"k":"3C","x":100,"m":23.3,"s":4.7,"lo":21.7,"hi":27.2},
{"k":"3T","x":0,"m":0.4,"s":4.8,"lo":-9.9,"hi":-2.1},{"k":"3T","x":2,"m":0.9,"s":4.5},{"k":"3T","x":4,"m":1.2,"s":4.3,"lo":-9.6,"hi":-0.9},{"k":"3T","x":6,"m":1.2,"s":4.1},{"k":"3T","x":8,"m":1,"s":3.9,"lo":-9.1,"hi":-0.8},{"k":"3T","x":10,"m":0.4,"s":3.8},{"k":"3T","x":12,"m":-0.5,"s":4,"lo":-9.1,"hi":-1},{"k":"3T","x":14,"m":-1.3,"s":4.3},{"k":"3T","x":16,"m":-2.1,"s":4.7,"lo":-9.1,"hi":-1.2},{"k":"3T","x":18,"m":-2.9,"s":4.7},{"k":"3T","x":20,"m":-3.7,"s":4.7,"lo":-9.2,"hi":-1.4},{"k":"3T","x":22,"m":-4.2,"s":4.9},{"k":"3T","x":24,"m":-4.7,"s":5.1,"lo":-9.3,"hi":-1.6},{"k":"3T","x":26,"m":-5.2,"s":5.3},{"k":"3T","x":28,"m":-5.6,"s":5.4,"lo":-9.3,"hi":-1.9},{"k":"3T","x":30,"m":-6,"s":5.5},{"k":"3T","x":32,"m":-6.4,"s":5.5,"lo":-9.3,"hi":-2.2},{"k":"3T","x":34,"m":-6.8,"s":5.5},{"k":"3T","x":36,"m":-7.2,"s":5.5,"lo":-9.3,"hi":-2.5},{"k":"3T","x":38,"m":-7.6,"s":5.4},{"k":"3T","x":40,"m":-7.8,"s":5.3,"lo":-9.2,"hi":-2.2},{"k":"3T","x":42,"m":-8,"s":5},{"k":"3T","x":44,"m":-8,"s":4.8,"lo":-9,"hi":-1},{"k":"3T","x":46,"m":-8.2,"s":4.6},{"k":"3T","x":48,"m":-8.4,"s":4.8,"lo":-8.8,"hi":0.4},{"k":"3T","x":50,"m":-8.6,"s":5.2},{"k":"3T","x":52,"m":-9.1,"s":5.4,"lo":-8.6,"hi":1.6},{"k":"3T","x":54,"m":-9.8,"s":5.5},{"k":"3T","x":56,"m":-9.9,"s":5.6,"lo":-8.4,"hi":2.3},{"k":"3T","x":58,"m":-9.9,"s":5.6},{"k":"3T","x":60,"m":-9.9,"s":5.6,"lo":-8.2,"hi":2.4},{"k":"3T","x":62,"m":-9.9,"s":5.6},{"k":"3T","x":64,"m":-9.9,"s":5.6,"lo":-8,"hi":2.1},{"k":"3T","x":66,"m":-9.8,"s":5.6},{"k":"3T","x":68,"m":-9.3,"s":5.6,"lo":-8,"hi":1.5},{"k":"3T","x":70,"m":-8.8,"s":5.5},{"k":"3T","x":72,"m":-8.4,"s":5.5,"lo":-8,"hi":0.7},{"k":"3T","x":74,"m":-7.7,"s":5.5},{"k":"3T","x":76,"m":-7.2,"s":5.5,"lo":-8.1,"hi":-0.2},{"k":"3T","x":78,"m":-6.6,"s":5.7},{"k":"3T","x":80,"m":-6.2,"s":6,"lo":-8.4,"hi":-1},{"k":"3T","x":82,"m":-5.4,"s":6},{"k":"3T","x":84,"m":-4.8,"s":6,"lo":-9.2,"hi":-1.7},{"k":"3T","x":86,"m":-4.3,"s":6.1},{"k":"3T","x":88,"m":-3.7,"s":6.1,"lo":-10,"hi":-2.2},{"k":"3T","x":90,"m":-3,"s":6},{"k":"3T","x":92,"m":-2.3,"s":5.9,"lo":-10.4,"hi":-2.5},{"k":"3T","x":94,"m":-1.7,"s":5.8},{"k":"3T","x":96,"m":-1.2,"s":5.5,"lo":-10.7,"hi":-2.7},{"k":"3T","x":98,"m":-0.7,"s":5.3},{"k":"3T","x":100,"m":-0.2,"s":5.1,"lo":-10.3,"hi":-2.7},
{"k":"4P","x":0,"m":5,"s":5.5,"lo":-0.6,"hi":16.8},{"k":"4P","x":2,"m":4,"s":4},{"k":"4P","x":4,"m":3.4,"s":3,"lo":-1.2,"hi":8.1},{"k":"4P","x":6,"m":3.1,"s":3},{"k":"4P","x":8,"m":3.1,"s":3,"lo":-1.9,"hi":4.4},{"k":"4P","x":10,"m":3.1,"s":3},{"k":"4P","x":12,"m":3.1,"s":3,"lo":-1.9,"hi":3.4},{"k":"4P","x":14,"m":3.1,"s":3},{"k":"4P","x":16,"m":3,"s":3,"lo":-1.9,"hi":3.4},{"k":"4P","x":18,"m":3,"s":3},{"k":"4P","x":20,"m":3,"s":3,"lo":-1.9,"hi":3.4},{"k":"4P","x":22,"m":3,"s":3},{"k":"4P","x":24,"m":2.9,"s":3,"lo":-1.9,"hi":3.3},{"k":"4P","x":26,"m":2.9,"s":3},{"k":"4P","x":28,"m":2.9,"s":3,"lo":-1.9,"hi":3.2},{"k":"4P","x":30,"m":2.8,"s":3},{"k":"4P","x":32,"m":2.8,"s":3.3,"lo":-1.9,"hi":3.1},{"k":"4P","x":34,"m":2.6,"s":3.6},{"k":"4P","x":36,"m":2.5,"s":4,"lo":-1.9,"hi":3},{"k":"4P","x":38,"m":1.9,"s":4.8},{"k":"4P","x":40,"m":1.2,"s":5.5,"lo":-1.9,"hi":2.9},{"k":"4P","x":42,"m":0,"s":6.4},{"k":"4P","x":44,"m":-1.2,"s":7.3,"lo":-3.1,"hi":2.8},{"k":"4P","x":46,"m":-3,"s":8.6},{"k":"4P","x":48,"m":-5,"s":10,"lo":-6,"hi":2.7},{"k":"4P","x":50,"m":-7,"s":11.5},{"k":"4P","x":52,"m":-9,"s":13,"lo":-9,"hi":2.6},{"k":"4P","x":54,"m":-11.3,"s":14.3},{"k":"4P","x":56,"m":-13.7,"s":15.6,"lo":-13.1,"hi":2.5},{"k":"4P","x":58,"m":-15.6,"s":16.3},{"k":"4P","x":60,"m":-17.5,"s":17,"lo":-18.4,"hi":2.5},{"k":"4P","x":62,"m":-18.8,"s":17},{"k":"4P","x":64,"m":-20,"s":17,"lo":-26.2,"hi":1.9},{"k":"4P","x":66,"m":-20.6,"s":15},{"k":"4P","x":68,"m":-21,"s":11.7,"lo":-37,"hi":-0.6},{"k":"4P","x":70,"m":-21,"s":12},{"k":"4P","x":72,"m":-18.4,"s":13,"lo":-48,"hi":-7.5},{"k":"4P","x":74,"m":-16.2,"s":13},{"k":"4P","x":76,"m":-13.7,"s":13,"lo":-55.8,"hi":-18.4},{"k":"4P","x":78,"m":-11.2,"s":12.8},{"k":"4P","x":80,"m":-7.5,"s":12.5,"lo":-59,"hi":-26.2},{"k":"4P","x":82,"m":-3.7,"s":11.8},{"k":"4P","x":84,"m":-1.2,"s":11,"lo":-55.8,"hi":-26.2},{"k":"4P","x":86,"m":0.9,"s":10.2},{"k":"4P","x":88,"m":3.4,"s":9.4,"lo":-49.6,"hi":-10.6},{"k":"4P","x":90,"m":4.4,"s":9},{"k":"4P","x":92,"m":5.6,"s":8.6,"lo":-37,"hi":5},{"k":"4P","x":94,"m":6.5,"s":8.6},{"k":"4P","x":96,"m":7.2,"s":8.6,"lo":-17,"hi":15.9},{"k":"4P","x":98,"m":7.2,"s":8.2},{"k":"4P","x":100,"m":7.2,"s":7.8,"lo":0,"hi":17.5},
{"k":"4L","x":0,"m":11.9,"s":5.8,"lo":8,"hi":20.4},{"k":"4L","x":2,"m":11.1,"s":6},{"k":"4L","x":4,"m":10.1,"s":6.2,"lo":4.9,"hi":17},{"k":"4L","x":6,"m":8.5,"s":6.5},{"k":"4L","x":8,"m":6.7,"s":6.8,"lo":1.6,"hi":13.2},{"k":"4L","x":10,"m":5.9,"s":7},{"k":"4L","x":12,"m":5.4,"s":6.9,"lo":-0.3,"hi":9.3},{"k":"4L","x":14,"m":4.9,"s":6.8},{"k":"4L","x":16,"m":4.4,"s":6.7,"lo":-1.8,"hi":6.7},{"k":"4L","x":18,"m":3.9,"s":6.6},{"k":"4L","x":20,"m":3.4,"s":6.5,"lo":-3.1,"hi":4.9},{"k":"4L","x":22,"m":2.8,"s":6.6},{"k":"4L","x":24,"m":2.1,"s":6.7,"lo":-4.4,"hi":2.8},{"k":"4L","x":26,"m":1.3,"s":6.8},{"k":"4L","x":28,"m":0.3,"s":6.9,"lo":-5.4,"hi":0.8},{"k":"4L","x":30,"m":-0.8,"s":7},{"k":"4L","x":32,"m":-1.6,"s":7.4,"lo":-7,"hi":-1},{"k":"4L","x":34,"m":-2.3,"s":7.8},{"k":"4L","x":36,"m":-3.6,"s":8.2,"lo":-8,"hi":-2.8},{"k":"4L","x":38,"m":-4.9,"s":8.6},{"k":"4L","x":40,"m":-6.5,"s":9,"lo":-9.6,"hi":-4.9},{"k":"4L","x":42,"m":-8,"s":9.3},{"k":"4L","x":44,"m":-9.6,"s":9.6,"lo":-11.4,"hi":-7},{"k":"4L","x":46,"m":-10.9,"s":9.9},{"k":"4L","x":48,"m":-12.1,"s":10.1,"lo":-14,"hi":-8.8},{"k":"4L","x":50,"m":-14,"s":10.3},{"k":"4L","x":52,"m":-15.2,"s":10.5,"lo":-16.5,"hi":-10.1},{"k":"4L","x":54,"m":-16.5,"s":10.8},{"k":"4L","x":56,"m":-17.8,"s":11,"lo":-19.1,"hi":-11.4},{"k":"4L","x":58,"m":-19.1,"s":10.8},{"k":"4L","x":60,"m":-19.1,"s":10.3,"lo":-21.7,"hi":-12.7},{"k":"4L","x":62,"m":-19.1,"s":10.3},{"k":"4L","x":64,"m":-19.1,"s":10.3,"lo":-25.6,"hi":-14.7},{"k":"4L","x":66,"m":-19.1,"s":10.3},{"k":"4L","x":68,"m":-19.1,"s":9.6,"lo":-32,"hi":-17.8},{"k":"4L","x":70,"m":-17.8,"s":9},{"k":"4L","x":72,"m":-15.8,"s":8.7,"lo":-38.5,"hi":-20.9},{"k":"4L","x":74,"m":-12.7,"s":8.4},{"k":"4L","x":76,"m":-10.9,"s":8.7,"lo":-42.4,"hi":-23},{"k":"4L","x":78,"m":-8.8,"s":9},{"k":"4L","x":80,"m":-7,"s":9,"lo":-42.4,"hi":-25.6},{"k":"4L","x":82,"m":-4.9,"s":9},{"k":"4L","x":84,"m":-2.3,"s":8.4,"lo":-39.8,"hi":-23},{"k":"4L","x":86,"m":0.3,"s":7.8},{"k":"4L","x":88,"m":3.4,"s":7.8,"lo":-35.9,"hi":-12.7},{"k":"4L","x":90,"m":5.4,"s":7.8},{"k":"4L","x":92,"m":6.7,"s":7.1,"lo":-28.2,"hi":2.8},{"k":"4L","x":94,"m":8,"s":6.5},{"k":"4L","x":96,"m":9.3,"s":6.5,"lo":-14,"hi":15.8},{"k":"4L","x":98,"m":10.1,"s":6.5},{"k":"4L","x":100,"m":10.1,"s":6.5,"lo":0.3,"hi":20.9},
{"k":"4C","x":0,"m":19.9,"s":4.7,"lo":20.4,"hi":27.5},{"k":"4C","x":2,"m":19.1,"s":5},{"k":"4C","x":4,"m":18.3,"s":5.3,"lo":19.5,"hi":26.7},{"k":"4C","x":6,"m":17.8,"s":5.7},{"k":"4C","x":8,"m":17.2,"s":6.2,"lo":18,"hi":26.2},{"k":"4C","x":10,"m":15.6,"s":7},{"k":"4C","x":12,"m":14.5,"s":7.5,"lo":15.5,"hi":24.3},{"k":"4C","x":14,"m":13.3,"s":8},{"k":"4C","x":16,"m":12.1,"s":8.7,"lo":13,"hi":21.2},{"k":"4C","x":18,"m":10.9,"s":9.3},{"k":"4C","x":20,"m":8.8,"s":9.9,"lo":11.7,"hi":18.8},{"k":"4C","x":22,"m":7.9,"s":10.2},{"k":"4C","x":24,"m":7,"s":10.5,"lo":9,"hi":16},{"k":"4C","x":26,"m":6,"s":10.8},{"k":"4C","x":28,"m":4.9,"s":11,"lo":6.5,"hi":13.7},{"k":"4C","x":30,"m":3.6,"s":11},{"k":"4C","x":32,"m":2.2,"s":10.7,"lo":4,"hi":11.3},{"k":"4C","x":34,"m":1,"s":10.4},{"k":"4C","x":36,"m":-0.2,"s":10,"lo":2,"hi":9},{"k":"4C","x":38,"m":-1.2,"s":9.7},{"k":"4C","x":40,"m":-2.2,"s":9.5,"lo":0.6,"hi":7},{"k":"4C","x":42,"m":-3,"s":9.8},{"k":"4C","x":44,"m":-3.8,"s":10,"lo":-2.5,"hi":5.8},{"k":"4C","x":46,"m":-4,"s":10},{"k":"4C","x":48,"m":-4.1,"s":10,"lo":-4.9,"hi":5},{"k":"4C","x":50,"m":-4.1,"s":9.5},{"k":"4C","x":52,"m":-3.8,"s":9,"lo":-7,"hi":4.4},{"k":"4C","x":54,"m":-3.3,"s":8.5},{"k":"4C","x":56,"m":-2.8,"s":8,"lo":-8.8,"hi":4},{"k":"4C","x":58,"m":-1.5,"s":8.3},{"k":"4C","x":60,"m":-0.2,"s":8.7,"lo":-10.1,"hi":3.5},{"k":"4C","x":62,"m":1,"s":8.8},{"k":"4C","x":64,"m":2.2,"s":8.9,"lo":-10.1,"hi":3.2},{"k":"4C","x":66,"m":3.8,"s":9},{"k":"4C","x":68,"m":5.4,"s":9.2,"lo":-8.1,"hi":4.8},{"k":"4C","x":70,"m":7,"s":9.3},{"k":"4C","x":72,"m":8.5,"s":9.5,"lo":-4.9,"hi":8},{"k":"4C","x":74,"m":10.1,"s":9.3},{"k":"4C","x":76,"m":11.7,"s":9,"lo":-0.2,"hi":12.5},{"k":"4C","x":78,"m":13.6,"s":9.2},{"k":"4C","x":80,"m":15.6,"s":9.5,"lo":6.2,"hi":18.5},{"k":"4C","x":82,"m":16.8,"s":9.7},{"k":"4C","x":84,"m":18,"s":9.8,"lo":12.5,"hi":26},{"k":"4C","x":86,"m":19,"s":9.9},{"k":"4C","x":88,"m":19.9,"s":9.6,"lo":17.2,"hi":31.4},{"k":"4C","x":90,"m":21.2,"s":9.3},{"k":"4C","x":92,"m":22,"s":9,"lo":20.4,"hi":30.8},{"k":"4C","x":94,"m":22,"s":9.2},{"k":"4C","x":96,"m":20.4,"s":9.5,"lo":22.7,"hi":29},{"k":"4C","x":98,"m":19.6,"s":9.2},{"k":"4C","x":100,"m":18.3,"s":9,"lo":22.7,"hi":27.5},
{"k":"4T","x":0,"m":2.3,"s":4.6,"lo":-9.3,"hi":-2.2},{"k":"4T","x":2,"m":2.8,"s":4.5},{"k":"4T","x":4,"m":3,"s":4.3,"lo":-8.8,"hi":0.5},{"k":"4T","x":6,"m":3,"s":4.1},{"k":"4T","x":8,"m":2.7,"s":3.9,"lo":-8.4,"hi":2.3},{"k":"4T","x":10,"m":2,"s":3.7},{"k":"4T","x":12,"m":1,"s":3.7,"lo":-8.3,"hi":2.7},{"k":"4T","x":14,"m":0.2,"s":3.8},{"k":"4T","x":16,"m":-0.7,"s":4,"lo":-8.4,"hi":2.7},{"k":"4T","x":18,"m":-1.5,"s":4.3},{"k":"4T","x":20,"m":-2.5,"s":4.6,"lo":-8.6,"hi":2.7},{"k":"4T","x":22,"m":-3.3,"s":4.8},{"k":"4T","x":24,"m":-4.2,"s":4.9,"lo":-8.8,"hi":2.5},{"k":"4T","x":26,"m":-5,"s":5},{"k":"4T","x":28,"m":-5.5,"s":4.9,"lo":-9.2,"hi":2},{"k":"4T","x":30,"m":-6,"s":4.8},{"k":"4T","x":32,"m":-6.3,"s":4.7,"lo":-9.5,"hi":1.6},{"k":"4T","x":34,"m":-6.7,"s":4.6},{"k":"4T","x":36,"m":-7.1,"s":4.5,"lo":-9.5,"hi":1.3},{"k":"4T","x":38,"m":-7.3,"s":4.5},{"k":"4T","x":40,"m":-7.3,"s":4.5,"lo":-9.3,"hi":1.3},{"k":"4T","x":42,"m":-7.2,"s":4.6},{"k":"4T","x":44,"m":-7.2,"s":4.7,"lo":-9,"hi":1.3},{"k":"4T","x":46,"m":-7.2,"s":4.8},{"k":"4T","x":48,"m":-7.3,"s":4.9,"lo":-8.6,"hi":1.8},{"k":"4T","x":50,"m":-7.3,"s":5},{"k":"4T","x":52,"m":-7.3,"s":5.2,"lo":-8.2,"hi":2.6},{"k":"4T","x":54,"m":-7.3,"s":5.4},{"k":"4T","x":56,"m":-7.3,"s":5.7,"lo":-7.8,"hi":3.2},{"k":"4T","x":58,"m":-7.3,"s":6},{"k":"4T","x":60,"m":-7.2,"s":6.3,"lo":-7.4,"hi":3.6},{"k":"4T","x":62,"m":-7,"s":6.4},{"k":"4T","x":64,"m":-6.7,"s":6.5,"lo":-7.2,"hi":3.2},{"k":"4T","x":66,"m":-6.3,"s":6.5},{"k":"4T","x":68,"m":-6,"s":6.5,"lo":-7.2,"hi":2.3},{"k":"4T","x":70,"m":-5.5,"s":6.5},{"k":"4T","x":72,"m":-5,"s":6.5,"lo":-7.3,"hi":2},{"k":"4T","x":74,"m":-4.6,"s":6.4},{"k":"4T","x":76,"m":-4.1,"s":6.4,"lo":-7.5,"hi":1.6},{"k":"4T","x":78,"m":-3.5,"s":6.1},{"k":"4T","x":80,"m":-3.1,"s":5.8,"lo":-7.8,"hi":1.2},{"k":"4T","x":82,"m":-2.7,"s":5.4},{"k":"4T","x":84,"m":-2.3,"s":5,"lo":-8.2,"hi":0.8},{"k":"4T","x":86,"m":-2,"s":4.8},{"k":"4T","x":88,"m":-1.5,"s":4.8,"lo":-8.8,"hi":0.4},{"k":"4T","x":90,"m":-1.1,"s":4.9},{"k":"4T","x":92,"m":-0.7,"s":5,"lo":-9.3,"hi":-0.3},{"k":"4T","x":94,"m":0,"s":4.9},{"k":"4T","x":96,"m":0.5,"s":4.7,"lo":-9.8,"hi":-1.5},{"k":"4T","x":98,"m":0.9,"s":4.6},{"k":"4T","x":100,"m":1.3,"s":4.6,"lo":-9.7,"hi":-2.7}
]},
"spacing":30,
"hconcat":[
{"title":{"text":"Pré teinamento","dx":-16},"spacing":13,"vconcat":[
 {"width":377,"height":128,"transform":[{"filter":"datum.k=='1P'"}],
  "encoding":{"x":{"field":"x","type":"quantitative","title":null,"scale":{"domain":[0,100],"nice":false},"axis":{"values":[0,20,40,60,80,100],"labels":false,"tickCount":50}}},
  "layer":[
   {"transform":[{"filter":"isValid(datum.lo)"}],"mark":{"type":"area","color":"#c0c0c0","interpolate":"monotone"},"encoding":{"y":{"field":"lo","type":"quantitative","title":null,"scale":{"domain":[-60,20],"nice":false},"axis":{"values":[-60,-40,-20,0,20],"format":"d","tickCount":50,"minExtent":43,"labelOverlap":false}},"y2":{"field":"hi"}}},
   {"transform":[{"filter":"datum.x==0"}],"mark":{"type":"rule","color":"#000","strokeWidth":1},"encoding":{"x":{"datum":0},"x2":{"datum":100},"y":{"datum":0}}},
   {"mark":{"type":"errorbar","color":"#000","thickness":1},"encoding":{"y":{"field":"m","type":"quantitative","title":null},"yError":{"field":"s"}}},
   {"mark":{"type":"line","color":"#000","strokeWidth":2.2,"interpolate":"monotone"},"encoding":{"y":{"field":"m","type":"quantitative","title":null}}},
   {"transform":[{"filter":"datum.x==0"}],"mark":{"type":"text","font":"Liberation Serif","fontSize":25,"fontWeight":"bold","baseline":"alphabetic","color":"#000"},"encoding":{"x":{"datum":47.5},"y":{"datum":15.6},"text":{"value":"Pé"}}}
  ]},
 {"width":377,"height":128,"transform":[{"filter":"datum.k=='1L'"}],
  "encoding":{"x":{"field":"x","type":"quantitative","title":null,"scale":{"domain":[0,100],"nice":false},"axis":{"values":[0,10,20,30,40,50,60,70,80,90,100],"labels":false,"tickCount":50}}},
  "layer":[
   {"transform":[{"filter":"isValid(datum.lo)"}],"mark":{"type":"area","color":"#c0c0c0","interpolate":"monotone"},"encoding":{"y":{"field":"lo","type":"quantitative","title":null,"scale":{"domain":[-60,40],"nice":false},"axis":{"values":[-60,-40,-20,0,20,40],"format":"d","tickCount":50,"minExtent":43,"labelOverlap":false}},"y2":{"field":"hi"}}},
   {"transform":[{"filter":"datum.x==0"}],"mark":{"type":"rule","color":"#000","strokeWidth":1},"encoding":{"x":{"datum":0},"x2":{"datum":100},"y":{"datum":0}}},
   {"mark":{"type":"errorbar","color":"#000","thickness":1},"encoding":{"y":{"field":"m","type":"quantitative","title":null},"yError":{"field":"s"}}},
   {"mark":{"type":"line","color":"#000","strokeWidth":2.2,"interpolate":"monotone"},"encoding":{"y":{"field":"m","type":"quantitative","title":null}}},
   {"transform":[{"filter":"datum.x==0"}],"mark":{"type":"text","font":"Liberation Serif","fontSize":25,"fontWeight":"bold","baseline":"alphabetic","color":"#000"},"encoding":{"x":{"datum":47.7},"y":{"datum":28.3},"text":{"value":"Perna"}}}
  ]},
 {"width":377,"height":128,"transform":[{"filter":"datum.k=='1C'"}],
  "encoding":{"x":{"field":"x","type":"quantitative","title":null,"scale":{"domain":[0,100],"nice":false},"axis":{"values":[0,20,40,60,80,100],"labels":false,"tickCount":50}}},
  "layer":[
   {"transform":[{"filter":"isValid(datum.lo)"}],"mark":{"type":"area","color":"#c0c0c0","interpolate":"monotone"},"encoding":{"y":{"field":"lo","type":"quantitative","title":null,"scale":{"domain":[-20,40],"nice":false},"axis":{"values":[-20,0,20,40],"format":"d","tickCount":50,"minExtent":43,"labelOverlap":false}},"y2":{"field":"hi"}}},
   {"transform":[{"filter":"datum.x==0"}],"mark":{"type":"rule","color":"#000","strokeWidth":1},"encoding":{"x":{"datum":0},"x2":{"datum":100},"y":{"datum":0}}},
   {"mark":{"type":"errorbar","color":"#000","thickness":1},"encoding":{"y":{"field":"m","type":"quantitative","title":null},"yError":{"field":"s"}}},
   {"mark":{"type":"line","color":"#000","strokeWidth":2.2,"interpolate":"monotone"},"encoding":{"y":{"field":"m","type":"quantitative","title":null}}},
   {"transform":[{"filter":"datum.x==0"}],"mark":{"type":"text","font":"Liberation Serif","fontSize":25,"fontWeight":"bold","baseline":"alphabetic","color":"#000"},"encoding":{"x":{"datum":47.5},"y":{"datum":30.6},"text":{"value":"Coxa"}}}
  ]},
 {"width":377,"height":128,"transform":[{"filter":"datum.k=='1T'"}],
  "encoding":{"x":{"field":"x","type":"quantitative","title":"% ciclo","scale":{"domain":[0,100],"nice":false},"axis":{"values":[0,10,20,30,40,50,60,70,80,90,100],"tickCount":50,"format":"d","labelExpr":"datum.value % 20 === 0 ? datum.label : ''"}}},
  "layer":[
   {"transform":[{"filter":"isValid(datum.lo)"}],"mark":{"type":"area","interpolate":"monotone"},"encoding":{"y":{"field":"lo","type":"quantitative","title":null,"scale":{"domain":[-20,10],"nice":false},"axis":{"values":[-20,-10,0,10],"format":"d","tickCount":50,"minExtent":43,"labelOverlap":false}},"y2":{"field":"hi"},"fill":{"datum":"Não parético","scale":{"range":["#c0c0c0"]},"legend":{"orient":"none","legendX":-28,"legendY":698,"title":null,"labelFont":"Liberation Sans","labelFontSize":17,"labelFontWeight":"bold","labelColor":"#222","symbolType":"square","symbolSize":484,"symbolStrokeWidth":0,"labelOffset":10,"encode":{"symbols":{"update":{"fill":{"value":"#a0a0a0"},"opacity":{"value":1}}}}}}}},
   {"transform":[{"filter":"datum.x==0"}],"mark":{"type":"rule","color":"#000","strokeWidth":1},"encoding":{"x":{"datum":0},"x2":{"datum":100},"y":{"datum":0}}},
   {"mark":{"type":"errorbar","color":"#000","thickness":1},"encoding":{"y":{"field":"m","type":"quantitative","title":null},"yError":{"field":"s"}}},
   {"mark":{"type":"line","strokeWidth":2.2,"interpolate":"monotone"},"encoding":{"y":{"field":"m","type":"quantitative","title":null},"stroke":{"datum":"Parético","scale":{"range":["#000000"]},"legend":{"orient":"none","legendX":-28,"legendY":669,"title":null,"labelFont":"Liberation Sans","labelFontSize":17,"labelFontWeight":"bold","labelColor":"#222","symbolType":"stroke","symbolSize":900,"symbolStrokeWidth":2,"labelOffset":10}}}},
   {"transform":[{"filter":"datum.x==0"}],"mark":{"type":"text","font":"Liberation Serif","fontSize":25,"fontWeight":"bold","baseline":"alphabetic","color":"#000"},"encoding":{"x":{"datum":48.8},"y":{"datum":7.2},"text":{"value":"Tronco"}}}
  ]}
]},
{"title":{"text":"Pós fase A₁","dx":-25},"spacing":13,"vconcat":[
 {"width":378,"height":128,"transform":[{"filter":"datum.k=='2P'"}],
  "encoding":{"x":{"field":"x","type":"quantitative","title":null,"scale":{"domain":[0,100],"nice":false},"axis":{"values":[0,20,40,60,80,100],"labels":false,"tickCount":50}}},
  "layer":[
   {"transform":[{"filter":"isValid(datum.lo)"}],"mark":{"type":"area","color":"#c0c0c0","interpolate":"monotone"},"encoding":{"y":{"field":"lo","type":"quantitative","title":null,"scale":{"domain":[-80,40],"nice":false},"axis":{"values":[-80,-60,-40,-20,0,20,40],"format":"d","tickCount":50,"minExtent":46,"labelOverlap":false}},"y2":{"field":"hi"}}},
   {"transform":[{"filter":"datum.x==0"}],"mark":{"type":"rule","color":"#000","strokeWidth":1},"encoding":{"x":{"datum":0},"x2":{"datum":100},"y":{"datum":0}}},
   {"mark":{"type":"errorbar","color":"#000","thickness":1},"encoding":{"y":{"field":"m","type":"quantitative","title":null},"yError":{"field":"s"}}},
   {"mark":{"type":"line","color":"#000","strokeWidth":2.2,"interpolate":"monotone"},"encoding":{"y":{"field":"m","type":"quantitative","title":null}}}
  ]},
 {"width":378,"height":128,"transform":[{"filter":"datum.k=='2L'"}],
  "encoding":{"x":{"field":"x","type":"quantitative","title":null,"scale":{"domain":[0,100],"nice":false},"axis":{"values":[0,10,20,30,40,50,60,70,80,90,100],"labels":false,"tickCount":50}}},
  "layer":[
   {"transform":[{"filter":"isValid(datum.lo)"}],"mark":{"type":"area","color":"#c0c0c0","interpolate":"monotone"},"encoding":{"y":{"field":"lo","type":"quantitative","title":null,"scale":{"domain":[-60,40],"nice":false},"axis":{"values":[-60,-40,-20,0,20,40],"format":"d","tickCount":50,"minExtent":46,"labelOverlap":false}},"y2":{"field":"hi"}}},
   {"transform":[{"filter":"datum.x==0"}],"mark":{"type":"rule","color":"#000","strokeWidth":1},"encoding":{"x":{"datum":0},"x2":{"datum":100},"y":{"datum":0}}},
   {"mark":{"type":"errorbar","color":"#000","thickness":1},"encoding":{"y":{"field":"m","type":"quantitative","title":null},"yError":{"field":"s"}}},
   {"mark":{"type":"line","color":"#000","strokeWidth":2.2,"interpolate":"monotone"},"encoding":{"y":{"field":"m","type":"quantitative","title":null}}}
  ]},
 {"width":378,"height":128,"transform":[{"filter":"datum.k=='2C'"}],
  "encoding":{"x":{"field":"x","type":"quantitative","title":null,"scale":{"domain":[0,100],"nice":false},"axis":{"values":[0,20,40,60,80,100],"labels":false,"tickCount":50}}},
  "layer":[
   {"transform":[{"filter":"isValid(datum.lo)"}],"mark":{"type":"area","color":"#c0c0c0","interpolate":"monotone"},"encoding":{"y":{"field":"lo","type":"quantitative","title":null,"scale":{"domain":[-20,40],"nice":false},"axis":{"values":[-20,0,20,40],"format":"d","tickCount":50,"minExtent":46,"labelOverlap":false}},"y2":{"field":"hi"}}},
   {"transform":[{"filter":"datum.x==0"}],"mark":{"type":"rule","color":"#000","strokeWidth":1},"encoding":{"x":{"datum":0},"x2":{"datum":100},"y":{"datum":0}}},
   {"mark":{"type":"errorbar","color":"#000","thickness":1},"encoding":{"y":{"field":"m","type":"quantitative","title":null},"yError":{"field":"s"}}},
   {"mark":{"type":"line","color":"#000","strokeWidth":2.2,"interpolate":"monotone"},"encoding":{"y":{"field":"m","type":"quantitative","title":null}}}
  ]},
 {"width":378,"height":128,"transform":[{"filter":"datum.k=='2T'"}],
  "encoding":{"x":{"field":"x","type":"quantitative","title":"% ciclo","scale":{"domain":[0,100],"nice":false},"axis":{"values":[0,10,20,30,40,50,60,70,80,90,100],"tickCount":50,"format":"d","labelExpr":"datum.value % 20 === 0 ? datum.label : ''"}}},
  "layer":[
   {"transform":[{"filter":"isValid(datum.lo)"}],"mark":{"type":"area","color":"#c0c0c0","interpolate":"monotone"},"encoding":{"y":{"field":"lo","type":"quantitative","title":null,"scale":{"domain":[-20,10],"nice":false},"axis":{"values":[-20,-15,-10,-5,0,5,10],"format":"d","tickCount":50,"minExtent":46,"labelOverlap":false}},"y2":{"field":"hi"}}},
   {"transform":[{"filter":"datum.x==0"}],"mark":{"type":"rule","color":"#000","strokeWidth":1},"encoding":{"x":{"datum":0},"x2":{"datum":100},"y":{"datum":0}}},
   {"mark":{"type":"errorbar","color":"#000","thickness":1},"encoding":{"y":{"field":"m","type":"quantitative","title":null},"yError":{"field":"s"}}},
   {"mark":{"type":"line","color":"#000","strokeWidth":2.2,"interpolate":"monotone"},"encoding":{"y":{"field":"m","type":"quantitative","title":null}}}
  ]}
]},
{"title":{"text":"Pós fase B","dx":-34},"spacing":13,"vconcat":[
 {"width":389,"height":128,"transform":[{"filter":"datum.k=='3P'"}],
  "encoding":{"x":{"field":"x","type":"quantitative","title":null,"scale":{"domain":[0,100],"nice":false},"axis":{"values":[0,20,40,60,80,100],"labels":false,"tickCount":50}}},
  "layer":[
   {"transform":[{"filter":"isValid(datum.lo)"}],"mark":{"type":"area","color":"#c0c0c0","interpolate":"monotone"},"encoding":{"y":{"field":"lo","type":"quantitative","title":null,"scale":{"domain":[-80,40],"nice":false},"axis":{"values":[-80,-60,-40,-20,0,20,40],"format":"d","tickCount":50,"minExtent":52,"labelOverlap":false}},"y2":{"field":"hi"}}},
   {"transform":[{"filter":"datum.x==0"}],"mark":{"type":"rule","color":"#000","strokeWidth":1},"encoding":{"x":{"datum":0},"x2":{"datum":100},"y":{"datum":0}}},
   {"mark":{"type":"errorbar","color":"#000","thickness":1},"encoding":{"y":{"field":"m","type":"quantitative","title":null},"yError":{"field":"s"}}},
   {"mark":{"type":"line","color":"#000","strokeWidth":2.2,"interpolate":"monotone"},"encoding":{"y":{"field":"m","type":"quantitative","title":null}}}
  ]},
 {"width":389,"height":128,"transform":[{"filter":"datum.k=='3L'"}],
  "encoding":{"x":{"field":"x","type":"quantitative","title":null,"scale":{"domain":[0,100],"nice":false},"axis":{"values":[0,10,20,30,40,50,60,70,80,90,100],"labels":false,"tickCount":50}}},
  "layer":[
   {"transform":[{"filter":"isValid(datum.lo)"}],"mark":{"type":"area","color":"#c0c0c0","interpolate":"monotone"},"encoding":{"y":{"field":"lo","type":"quantitative","title":null,"scale":{"domain":[-60,40],"nice":false},"axis":{"values":[-60,-40,-20,0,20,40],"format":"d","tickCount":50,"minExtent":52,"labelOverlap":false}},"y2":{"field":"hi"}}},
   {"transform":[{"filter":"datum.x==0"}],"mark":{"type":"rule","color":"#000","strokeWidth":1},"encoding":{"x":{"datum":0},"x2":{"datum":100},"y":{"datum":0}}},
   {"mark":{"type":"errorbar","color":"#000","thickness":1},"encoding":{"y":{"field":"m","type":"quantitative","title":null},"yError":{"field":"s"}}},
   {"mark":{"type":"line","color":"#000","strokeWidth":2.2,"interpolate":"monotone"},"encoding":{"y":{"field":"m","type":"quantitative","title":null}}}
  ]},
 {"width":389,"height":128,"transform":[{"filter":"datum.k=='3C'"}],
  "encoding":{"x":{"field":"x","type":"quantitative","title":null,"scale":{"domain":[0,100],"nice":false},"axis":{"values":[0,20,40,60,80,100],"labels":false,"tickCount":50}}},
  "layer":[
   {"transform":[{"filter":"isValid(datum.lo)"}],"mark":{"type":"area","color":"#c0c0c0","interpolate":"monotone"},"encoding":{"y":{"field":"lo","type":"quantitative","title":null,"scale":{"domain":[-20,40],"nice":false},"axis":{"values":[-20,0,20,40],"format":"d","tickCount":50,"minExtent":52,"labelOverlap":false}},"y2":{"field":"hi"}}},
   {"transform":[{"filter":"datum.x==0"}],"mark":{"type":"rule","color":"#000","strokeWidth":1},"encoding":{"x":{"datum":0},"x2":{"datum":100},"y":{"datum":0}}},
   {"mark":{"type":"errorbar","color":"#000","thickness":1},"encoding":{"y":{"field":"m","type":"quantitative","title":null},"yError":{"field":"s"}}},
   {"mark":{"type":"line","color":"#000","strokeWidth":2.2,"interpolate":"monotone"},"encoding":{"y":{"field":"m","type":"quantitative","title":null}}}
  ]},
 {"width":389,"height":128,"transform":[{"filter":"datum.k=='3T'"}],
  "encoding":{"x":{"field":"x","type":"quantitative","title":"% ciclo","scale":{"domain":[0,100],"nice":false},"axis":{"values":[0,10,20,30,40,50,60,70,80,90,100],"tickCount":50,"format":"d","labelExpr":"datum.value % 20 === 0 ? datum.label : ''"}}},
  "layer":[
   {"transform":[{"filter":"isValid(datum.lo)"}],"mark":{"type":"area","color":"#c0c0c0","interpolate":"monotone"},"encoding":{"y":{"field":"lo","type":"quantitative","title":null,"scale":{"domain":[-20,10],"nice":false},"axis":{"values":[-20,-15,-10,-5,0,5,10],"format":"d","tickCount":50,"minExtent":52,"labelOverlap":false}},"y2":{"field":"hi"}}},
   {"transform":[{"filter":"datum.x==0"}],"mark":{"type":"rule","color":"#000","strokeWidth":1},"encoding":{"x":{"datum":0},"x2":{"datum":100},"y":{"datum":0}}},
   {"mark":{"type":"errorbar","color":"#000","thickness":1},"encoding":{"y":{"field":"m","type":"quantitative","title":null},"yError":{"field":"s"}}},
   {"mark":{"type":"line","color":"#000","strokeWidth":2.2,"interpolate":"monotone"},"encoding":{"y":{"field":"m","type":"quantitative","title":null}}}
  ]}
]},
{"title":{"text":"Pós fase A₂","dx":-34},"spacing":13,"vconcat":[
 {"width":380,"height":128,"transform":[{"filter":"datum.k=='4P'"}],
  "encoding":{"x":{"field":"x","type":"quantitative","title":null,"scale":{"domain":[0,100],"nice":false},"axis":{"values":[0,20,40,60,80,100],"labels":false,"tickCount":50}}},
  "layer":[
   {"transform":[{"filter":"isValid(datum.lo)"}],"mark":{"type":"area","color":"#c0c0c0","interpolate":"monotone"},"encoding":{"y":{"field":"lo","type":"quantitative","title":null,"scale":{"domain":[-80,40],"nice":false},"axis":{"values":[-80,-60,-40,-20,0,20,40],"format":"d","tickCount":50,"minExtent":58,"labelOverlap":false}},"y2":{"field":"hi"}}},
   {"transform":[{"filter":"datum.x==0"}],"mark":{"type":"rule","color":"#000","strokeWidth":1},"encoding":{"x":{"datum":0},"x2":{"datum":100},"y":{"datum":0}}},
   {"mark":{"type":"errorbar","color":"#000","thickness":1},"encoding":{"y":{"field":"m","type":"quantitative","title":null},"yError":{"field":"s"}}},
   {"mark":{"type":"line","color":"#000","strokeWidth":2.2,"interpolate":"monotone"},"encoding":{"y":{"field":"m","type":"quantitative","title":null}}}
  ]},
 {"width":380,"height":128,"transform":[{"filter":"datum.k=='4L'"}],
  "encoding":{"x":{"field":"x","type":"quantitative","title":null,"scale":{"domain":[0,100],"nice":false},"axis":{"values":[0,10,20,30,40,50,60,70,80,90,100],"labels":false,"tickCount":50}}},
  "layer":[
   {"transform":[{"filter":"isValid(datum.lo)"}],"mark":{"type":"area","color":"#c0c0c0","interpolate":"monotone"},"encoding":{"y":{"field":"lo","type":"quantitative","title":null,"scale":{"domain":[-60,40],"nice":false},"axis":{"values":[-60,-40,-20,0,20,40],"format":"d","tickCount":50,"minExtent":58,"labelOverlap":false}},"y2":{"field":"hi"}}},
   {"transform":[{"filter":"datum.x==0"}],"mark":{"type":"rule","color":"#000","strokeWidth":1},"encoding":{"x":{"datum":0},"x2":{"datum":100},"y":{"datum":0}}},
   {"mark":{"type":"errorbar","color":"#000","thickness":1},"encoding":{"y":{"field":"m","type":"quantitative","title":null},"yError":{"field":"s"}}},
   {"mark":{"type":"line","color":"#000","strokeWidth":2.2,"interpolate":"monotone"},"encoding":{"y":{"field":"m","type":"quantitative","title":null}}}
  ]},
 {"width":380,"height":128,"transform":[{"filter":"datum.k=='4C'"}],
  "encoding":{"x":{"field":"x","type":"quantitative","title":null,"scale":{"domain":[0,100],"nice":false},"axis":{"values":[0,20,40,60,80,100],"labels":false,"tickCount":50}}},
  "layer":[
   {"transform":[{"filter":"isValid(datum.lo)"}],"mark":{"type":"area","color":"#c0c0c0","interpolate":"monotone"},"encoding":{"y":{"field":"lo","type":"quantitative","title":null,"scale":{"domain":[-20,40],"nice":false},"axis":{"values":[-20,0,20,40],"format":"d","tickCount":50,"minExtent":58,"labelOverlap":false}},"y2":{"field":"hi"}}},
   {"transform":[{"filter":"datum.x==0"}],"mark":{"type":"rule","color":"#000","strokeWidth":1},"encoding":{"x":{"datum":0},"x2":{"datum":100},"y":{"datum":0}}},
   {"mark":{"type":"errorbar","color":"#000","thickness":1},"encoding":{"y":{"field":"m","type":"quantitative","title":null},"yError":{"field":"s"}}},
   {"mark":{"type":"line","color":"#000","strokeWidth":2.2,"interpolate":"monotone"},"encoding":{"y":{"field":"m","type":"quantitative","title":null}}}
  ]},
 {"width":380,"height":128,"transform":[{"filter":"datum.k=='4T'"}],
  "encoding":{"x":{"field":"x","type":"quantitative","title":"% ciclo","scale":{"domain":[0,100],"nice":false},"axis":{"values":[0,10,20,30,40,50,60,70,80,90,100],"tickCount":50,"format":"d","labelExpr":"datum.value % 20 === 0 ? datum.label : ''"}}},
  "layer":[
   {"transform":[{"filter":"isValid(datum.lo)"}],"mark":{"type":"area","color":"#c0c0c0","interpolate":"monotone"},"encoding":{"y":{"field":"lo","type":"quantitative","title":null,"scale":{"domain":[-15,10],"nice":false},"axis":{"values":[-15,-10,-5,0,5,10],"format":"d","tickCount":50,"minExtent":58,"labelOverlap":false}},"y2":{"field":"hi"}}},
   {"transform":[{"filter":"datum.x==0"}],"mark":{"type":"rule","color":"#000","strokeWidth":1},"encoding":{"x":{"datum":0},"x2":{"datum":100},"y":{"datum":0}}},
   {"mark":{"type":"errorbar","color":"#000","thickness":1},"encoding":{"y":{"field":"m","type":"quantitative","title":null},"yError":{"field":"s"}}},
   {"mark":{"type":"line","color":"#000","strokeWidth":2.2,"interpolate":"monotone"},"encoding":{"y":{"field":"m","type":"quantitative","title":null}}}
  ]}
]}
]
}
